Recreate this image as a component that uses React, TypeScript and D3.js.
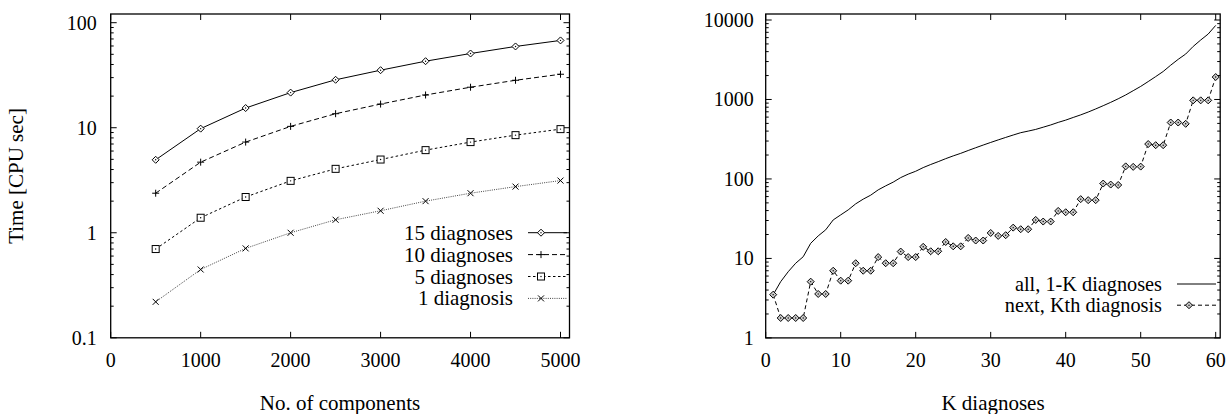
import React, { useEffect, useRef } from 'react'
import * as d3 from 'd3'

// left panel: time vs number of components
const components = [500, 1000, 1500, 2000, 2500, 3000, 3500, 4000, 4500, 5000]
const diag15 = [4.95, 9.8, 15.4, 21.6, 28.6, 35.3, 43, 50.9, 59.4, 67.8]
const diag10 = [2.38, 4.7, 7.3, 10.3, 13.6, 16.8, 20.5, 24.3, 28.3, 32.3]
const diag5 = [0.7, 1.39, 2.19, 3.12, 4.06, 4.98, 6.12, 7.3, 8.5, 9.7]
const diag1 = [0.22, 0.447, 0.71, 1.0, 1.33, 1.62, 2.0, 2.38, 2.75, 3.14]
const leftXTicks = [0, 1000, 2000, 3000, 4000, 5000]
const leftYTicks = [0.1, 1, 10, 100]

// right panel: K diagnoses
const allK = [
  3.5, 5.1, 6.8, 8.7, 10.5, 15.5, 19.2, 22.9, 30.5, 35.3,
  40.8, 48.6, 55.7, 62.5, 72.9, 81.9, 91.2, 104, 115, 125,
  139, 152, 165, 180, 195, 210, 228, 247, 267, 288,
  310, 333, 357, 382, 400, 420, 448, 478, 515, 550,
  594, 640, 695, 760, 835, 920, 1020, 1140, 1290, 1460,
  1680, 1940, 2250, 2700, 3200, 3730, 4650, 5600, 6660, 8550,
]
const nextK = [
  3.5, 1.78, 1.78, 1.78, 1.78, 5.1, 3.57, 3.57, 7.0, 5.25,
  5.25, 8.7, 7.0, 7.0, 10.4, 8.7, 8.7, 12.2, 10.4, 10.4,
  14.0, 12.3, 12.3, 16.1, 14.2, 14.2, 18.1, 16.8, 16.8, 20.9,
  19.2, 19.6, 24.4, 23.3, 23.3, 30.5, 29.1, 29.1, 39.6, 38.1,
  38.1, 55.7, 54.1, 54.1, 87.5, 85, 84, 144, 142, 143,
  275, 266, 266, 513, 513, 494, 975, 975, 975, 1915,
]
const rightXTicks = [0, 10, 20, 30, 40, 50, 60]
const rightYTicks = [1, 10, 100, 1000, 10000]

const FONT = '"Liberation Serif", "DejaVu Serif", serif'

function drawMarker(g, type, x, y, fill = '#fff') {
  const s = 3.5
  if (type === 'diamond') {
    g.append('path')
      .attr('d', `M${x},${y - s}L${x + s},${y}L${x},${y + s}L${x - s},${y}Z`)
      .attr('fill', fill).attr('stroke', '#000').attr('stroke-width', 1)
    g.append('circle').attr('cx', x).attr('cy', y).attr('r', 0.7).attr('fill', '#000')
  } else if (type === 'plus') {
    g.append('path')
      .attr('d', `M${x - s},${y}H${x + s}M${x},${y - s}V${y + s}`)
      .attr('stroke', '#000').attr('stroke-width', 1)
  } else if (type === 'square') {
    g.append('rect').attr('x', x - s).attr('y', y - s).attr('width', 2 * s).attr('height', 2 * s)
      .attr('fill', '#fff').attr('stroke', '#000').attr('stroke-width', 1)
    g.append('circle').attr('cx', x).attr('cy', y).attr('r', 0.7).attr('fill', '#000')
  } else if (type === 'cross') {
    const c = 3
    g.append('path')
      .attr('d', `M${x - c},${y - c}L${x + c},${y + c}M${x - c},${y + c}L${x + c},${y - c}`)
      .attr('stroke', '#000').attr('stroke-width', 1)
  }
}

function drawFrame(svg, x, y, xTicks, yTicks, labelGap) {
  const [x0, x1] = x.range()
  const [y0, y1] = y.range()
  const g = svg.append('g')
  g.append('rect')
    .attr('x', x0).attr('y', y1).attr('width', x1 - x0).attr('height', y0 - y1)
    .attr('fill', 'none').attr('stroke', '#000').attr('stroke-width', 1.3)

  // x ticks, mirrored on top
  xTicks.forEach(t => {
    const px = x(t)
    g.append('line').attr('x1', px).attr('x2', px).attr('y1', y0).attr('y2', y0 - 6).attr('stroke', '#000')
    g.append('line').attr('x1', px).attr('x2', px).attr('y1', y1).attr('y2', y1 + 6).attr('stroke', '#000')
    g.append('text').attr('x', px).attr('y', y0 + 29)
      .attr('text-anchor', 'middle').attr('font-size', 20).attr('font-family', FONT)
      .text(t)
  })

  // log y ticks with minor ticks, mirrored on right
  const [d0, d1] = y.domain()
  for (let e = Math.floor(Math.log10(d0)); e <= Math.ceil(Math.log10(d1)); e++) {
    for (let m = 1; m <= 9; m++) {
      const v = m * Math.pow(10, e)
      if (v < d0 * 0.999 || v > d1) continue
      const py = y(v)
      const len = m === 1 ? 6 : 3
      g.append('line').attr('x1', x0).attr('x2', x0 + len).attr('y1', py).attr('y2', py).attr('stroke', '#000')
      g.append('line').attr('x1', x1).attr('x2', x1 - len).attr('y1', py).attr('y2', py).attr('stroke', '#000')
    }
  }
  yTicks.forEach(t => {
    g.append('text').attr('x', x0 - labelGap).attr('y', y(t) + 7)
      .attr('text-anchor', 'end').attr('font-size', 20).attr('font-family', FONT)
      .text(t)
  })
}

function App() {
  const svgRef = useRef(null)

  useEffect(() => {
    const svg = d3.select(svgRef.current)
    svg.selectAll('*').remove()

    // ---------- left panel ----------
    const xL = d3.scaleLinear().domain([0, 5100]).range([110.7, 569.5])
    const yL = d3.scaleLog().domain([0.1, 121]).range([337.8, 14])
    drawFrame(svg, xL, yL, leftXTicks, leftYTicks, 14)

    const leftSeries = [
      { name: '15 diagnoses', values: diag15, dash: null, marker: 'diamond', color: '#000' },
      { name: '10 diagnoses', values: diag10, dash: '5,3', marker: 'plus', color: '#000' },
      { name: '5 diagnoses', values: diag5, dash: '2.5,2.5', marker: 'square', color: '#000' },
      { name: '1 diagnosis', values: diag1, dash: '1,1.2', marker: 'cross', color: '#444' },
    ]
    const lineL = d3.line().x((d, i) => xL(components[i])).y(d => yL(d))

    leftSeries.forEach((s, k) => {
      svg.append('path')
        .datum(s.values)
        .attr('d', lineL)
        .attr('fill', 'none')
        .attr('stroke', s.color)
        .attr('stroke-width', 1)
        .attr('stroke-dasharray', s.dash)
      const mg = svg.append('g')
      s.values.forEach((v, i) => drawMarker(mg, s.marker, xL(components[i]), yL(v)))

      // legend row
      const ly = 232.7 + k * 21.9
      svg.append('text').attr('x', 513).attr('y', ly + 7)
        .attr('text-anchor', 'end').attr('font-size', 21).attr('font-family', FONT)
        .text(s.name)
      svg.append('line').attr('x1', 528).attr('x2', 567).attr('y1', ly).attr('y2', ly)
        .attr('stroke', s.color).attr('stroke-width', 1).attr('stroke-dasharray', s.dash)
      drawMarker(svg.append('g'), s.marker, 541, ly)
    })

    svg.append('text')
      .attr('transform', 'translate(23,176) rotate(-90)')
      .attr('text-anchor', 'middle').attr('font-size', 21).attr('font-family', FONT)
      .text('Time [CPU sec]')
    svg.append('text').attr('x', 340).attr('y', 410)
      .attr('text-anchor', 'middle').attr('font-size', 21).attr('font-family', FONT)
      .text('No. of components')

    // ---------- right panel ----------
    const xR = d3.scaleLinear().domain([0, 60.6]).range([765.7, 1220.2])
    const yR = d3.scaleLog().domain([1, 11900]).range([337.9, 14])
    drawFrame(svg, xR, yR, rightXTicks, rightYTicks, 12)

    const lineR = d3.line().x((d, i) => xR(i + 1)).y(d => yR(d))
    svg.append('path')
      .datum(allK)
      .attr('d', lineR)
      .attr('fill', 'none').attr('stroke', '#000').attr('stroke-width', 1)
    svg.append('path')
      .datum(nextK)
      .attr('d', lineR)
      .attr('fill', 'none').attr('stroke', '#000').attr('stroke-width', 1)
      .attr('stroke-dasharray', '4,3')
    const mr = svg.append('g')
    nextK.forEach((v, i) => drawMarker(mr, 'diamond', xR(i + 1), yR(v), '#ccc'))

    const rightLegend = [
      { name: 'all, 1-K diagnoses', dash: null, marker: false },
      { name: 'next, Kth diagnosis', dash: '4,3', marker: true },
    ]
    rightLegend.forEach((s, k) => {
      const ly = 284 + k * 21.2
      svg.append('text').attr('x', 1162).attr('y', ly + 7)
        .attr('text-anchor', 'end').attr('font-size', 20.3).attr('font-family', FONT)
        .text(s.name)
      svg.append('line').attr('x1', 1177).attr('x2', 1216).attr('y1', ly).attr('y2', ly)
        .attr('stroke', '#000').attr('stroke-width', 1).attr('stroke-dasharray', s.dash)
      if (s.marker) drawMarker(svg.append('g'), 'diamond', 1189, ly, '#ccc')
    })

    svg.append('text').attr('x', 993).attr('y', 410)
      .attr('text-anchor', 'middle').attr('font-size', 21).attr('font-family', FONT)
      .text('K diagnoses')
  }, [])

  return (
    <svg
      ref={svgRef}
      width={1229}
      height={414}
      style={{ position: 'absolute', left: 0, top: 0, background: '#fff' }}
    />
  )
}

export default App
